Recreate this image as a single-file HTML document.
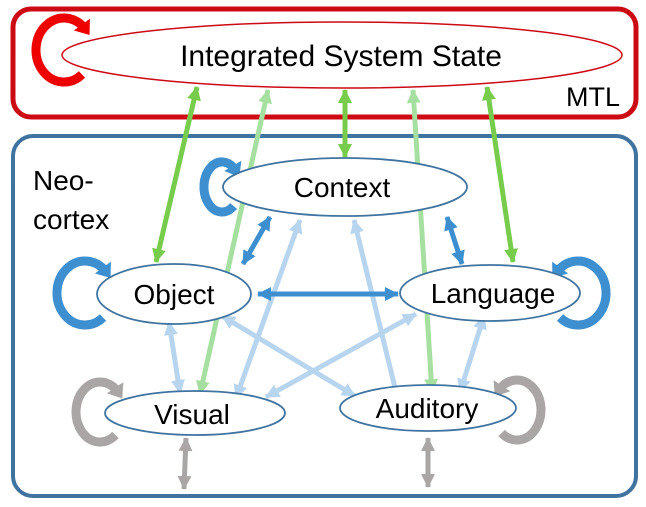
<!DOCTYPE html>
<html><head><meta charset="utf-8"><style>
html,body{margin:0;padding:0;background:#fff;}
svg{display:block;}
text{font-family:"Liberation Sans",sans-serif;fill:#000;}
</style></head><body>
<svg width="646" height="507" viewBox="0 0 646 507" xmlns="http://www.w3.org/2000/svg">
<defs>
<marker id="mg" markerUnits="userSpaceOnUse" markerWidth="16" markerHeight="16" refX="13" refY="8" orient="auto-start-reverse"><path d="M0,1 L14,8 L0,15 z" fill="#77cc4c"/></marker>
<marker id="mlg" markerUnits="userSpaceOnUse" markerWidth="16" markerHeight="16" refX="13" refY="8" orient="auto-start-reverse"><path d="M0,1 L14,8 L0,15 z" fill="#a6e0a0"/></marker>
<marker id="mb" markerUnits="userSpaceOnUse" markerWidth="16" markerHeight="16" refX="13" refY="8" orient="auto-start-reverse"><path d="M0,1 L14,8 L0,15 z" fill="#3d8fd0"/></marker>
<marker id="mlb" markerUnits="userSpaceOnUse" markerWidth="16" markerHeight="16" refX="13" refY="8" orient="auto-start-reverse"><path d="M0,1 L14,8 L0,15 z" fill="#b7d5ee"/></marker>
<marker id="mgr" markerUnits="userSpaceOnUse" markerWidth="16" markerHeight="16" refX="13" refY="8" orient="auto-start-reverse"><path d="M0,1 L14,8 L0,15 z" fill="#aaa6a6"/></marker>
<marker id="lb" markerUnits="userSpaceOnUse" markerWidth="20" markerHeight="20" refX="6" refY="10" orient="auto"><path d="M0,0 L13,10 L0,20 z" fill="#3d8fd0"/></marker>
<marker id="lg" markerUnits="userSpaceOnUse" markerWidth="20" markerHeight="20" refX="6" refY="10" orient="auto"><path d="M0,0 L13,10 L0,20 z" fill="#aaa6a6"/></marker>
<marker id="lr" markerUnits="userSpaceOnUse" markerWidth="20" markerHeight="20" refX="6" refY="10" orient="auto"><path d="M0,0 L13,10 L0,20 z" fill="#ee0000"/></marker>
</defs>
<rect x="13" y="9" width="623" height="108" rx="18" fill="none" stroke="#cc0a14" stroke-width="5"/>
<rect x="13" y="136" width="623" height="360" rx="20" fill="none" stroke="#3f73a0" stroke-width="4"/>
<path d="M82 74.5 A28 32 0 1 1 85.4 29.4" fill="none" stroke="#ee0000" stroke-width="9" marker-end="url(#lr)"/>
<ellipse cx="342" cy="55" rx="280" ry="33" fill="#fff" stroke="#cc0a14" stroke-width="1.5"/>
<text x="341" y="66" font-size="30" text-anchor="middle">Integrated System State</text>
<text x="620" y="106" font-size="27" text-anchor="end">MTL</text>
<text x="33" y="190" font-size="28">Neo-</text>
<text x="33" y="229" font-size="28">cortex</text>
<g stroke="#b7d5ee" stroke-width="5">
<line x1="300" y1="220" x2="236" y2="398" marker-start="url(#mlb)" marker-end="url(#mlb)"/>
<line x1="354" y1="220" x2="398" y2="400" marker-start="url(#mlb)" marker-end="url(#mlb)"/>
<line x1="169" y1="322" x2="180" y2="393" marker-start="url(#mlb)" marker-end="url(#mlb)"/>
<line x1="222" y1="316" x2="355" y2="396" marker-start="url(#mlb)" marker-end="url(#mlb)"/>
<line x1="416" y1="314" x2="266" y2="397" marker-start="url(#mlb)" marker-end="url(#mlb)"/>
<line x1="484" y1="316" x2="460" y2="392" marker-start="url(#mlb)" marker-end="url(#mlb)"/>
</g>
<g stroke="#a6e0a0" stroke-width="5">
<line x1="268" y1="90" x2="200" y2="394" marker-start="url(#mlg)" marker-end="url(#mlg)"/>
<line x1="413" y1="90" x2="432" y2="392" marker-start="url(#mlg)" marker-end="url(#mlg)"/>
</g>
<g stroke="#77cc4c" stroke-width="5">
<line x1="197" y1="87" x2="156" y2="262" marker-start="url(#mg)" marker-end="url(#mg)"/>
<line x1="345" y1="90" x2="345" y2="157" marker-start="url(#mg)" marker-end="url(#mg)"/>
<line x1="487" y1="87" x2="513" y2="262" marker-start="url(#mg)" marker-end="url(#mg)"/>
</g>
<g stroke="#3d8fd0" stroke-width="5">
<line x1="270" y1="217" x2="243" y2="264" marker-start="url(#mb)" marker-end="url(#mb)"/>
<line x1="447" y1="217" x2="462" y2="264" marker-start="url(#mb)" marker-end="url(#mb)"/>
<line x1="258" y1="294" x2="398" y2="294" marker-start="url(#mb)" marker-end="url(#mb)"/>
</g>
<g stroke="#aaa6a6" stroke-width="5">
<line x1="186" y1="438" x2="184" y2="489" marker-start="url(#mgr)" marker-end="url(#mgr)"/>
<line x1="428" y1="438" x2="428" y2="487" marker-start="url(#mgr)" marker-end="url(#mgr)"/>
</g>
<path d="M233.6 206 A18 25 0 1 1 235.8 171" fill="none" stroke="#3d8fd0" stroke-width="9" marker-end="url(#lb)"/>
<path d="M103 317.5 A28 32 0 1 1 106.4 272.4" fill="none" stroke="#3d8fd0" stroke-width="9" marker-end="url(#lb)"/>
<path d="M560 317.5 A28 32 0 1 0 556.6 272.4" fill="none" stroke="#3d8fd0" stroke-width="9" marker-end="url(#lb)"/>
<path d="M115.4 435 A24 30 0 1 1 118.4 392.7" fill="none" stroke="#aaa6a6" stroke-width="9" marker-end="url(#lg)"/>
<path d="M501.6 433 A24 30 0 1 0 498.6 390.7" fill="none" stroke="#aaa6a6" stroke-width="9" marker-end="url(#lg)"/>
<g fill="#fff" stroke="#3f73a0" stroke-width="1.8">
<ellipse cx="345" cy="187" rx="122" ry="29"/>
<ellipse cx="174" cy="294" rx="77" ry="30"/>
<ellipse cx="490" cy="293" rx="90" ry="28"/>
<ellipse cx="195" cy="413" rx="90" ry="22"/>
<ellipse cx="428" cy="408" rx="88" ry="23"/>
</g>
<g font-size="28" text-anchor="middle">
<text x="342" y="197">Context</text>
<text x="174" y="304">Object</text>
<text x="493" y="303">Language</text>
<text x="192" y="424">Visual</text>
<text x="427" y="418">Auditory</text>
</g>
</svg>
</body></html>
